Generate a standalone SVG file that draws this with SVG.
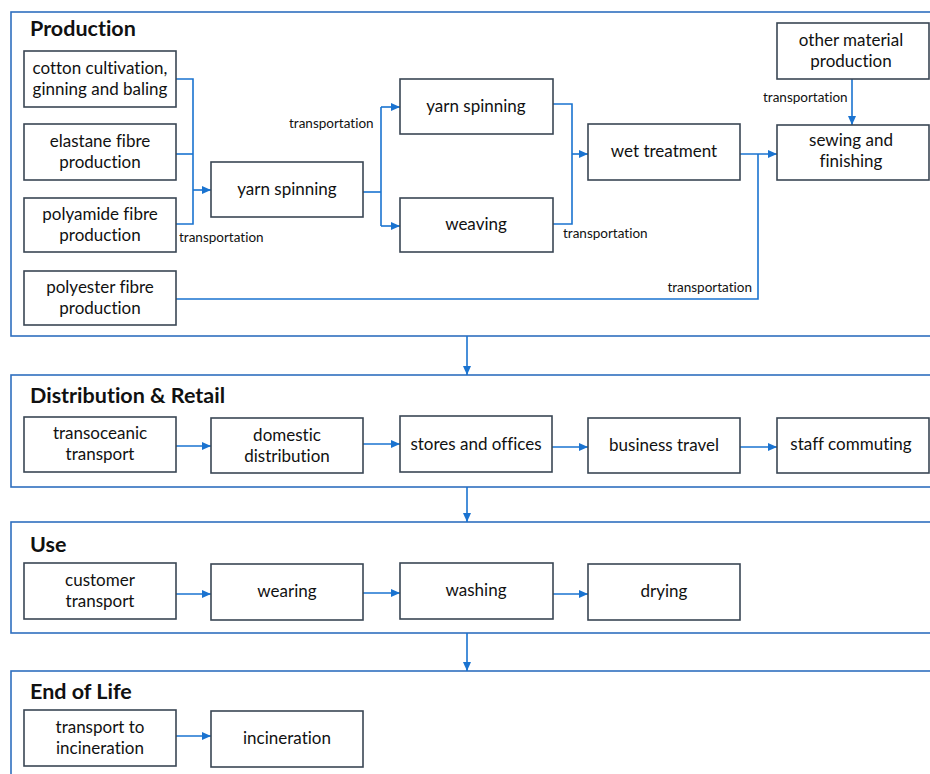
<svg xmlns="http://www.w3.org/2000/svg" width="930" height="774" viewBox="0 0 930 774">
<style>
.frame{fill:none;stroke:#2f6fbf;stroke-width:1.6}
.box{fill:#fff;stroke:#3a4654;stroke-width:1.6}
text{font-variant-ligatures:none}
.t{font-family:Lato,"Liberation Sans",sans-serif;font-size:17px;fill:#111;text-anchor:middle}
.h{font-family:Lato,"Liberation Sans",sans-serif;font-size:21.5px;font-weight:bold;fill:#111}
.lbl{font-family:Lato,"Liberation Sans",sans-serif;font-size:13.5px;fill:#111}
.c{fill:none;stroke:#1a73d0;stroke-width:1.6}
</style>
<defs>
<marker id="m" markerWidth="10" markerHeight="10" refX="9" refY="4" orient="auto" markerUnits="userSpaceOnUse">
<path d="M0,0 L9,4 L0,8 z" fill="#1a73d0"/>
</marker>
</defs>

<g id="frames">
<rect class="frame" x="11" y="12" width="930" height="324"/>
<text class="h" x="30" y="36">Production</text>
<rect class="frame" x="11" y="375" width="930" height="112"/>
<text class="h" x="30" y="403">Distribution &amp; Retail</text>
<rect class="frame" x="11" y="522" width="930" height="111"/>
<text class="h" x="30" y="552">Use</text>
<rect class="frame" x="11" y="671" width="930" height="120"/>
<text class="h" x="30" y="699">End of Life</text>
</g>

<g id="connectors">
<path class="c" d="M176,79 H193 V224 H176"/>
<path class="c" d="M176,154 H193"/>
<path class="c" d="M193,190 H211" marker-end="url(#m)"/>
<path class="c" d="M363,192 H381"/>
<path class="c" d="M381,107 V226"/>
<path class="c" d="M381,107 H400" marker-end="url(#m)"/>
<path class="c" d="M381,226 H400" marker-end="url(#m)"/>
<path class="c" d="M553,104 H572 V224 H553"/>
<path class="c" d="M572,154 H588" marker-end="url(#m)"/>
<path class="c" d="M740,154 H777" marker-end="url(#m)"/>
<path class="c" d="M176,299 H758 V154"/>
<path class="c" d="M852,79 V125" marker-end="url(#m)"/>
<path class="c" d="M467,336 V375" marker-end="url(#m)"/>
<path class="c" d="M176,446 H211" marker-end="url(#m)"/>
<path class="c" d="M363,444 H400" marker-end="url(#m)"/>
<path class="c" d="M552,447 H588" marker-end="url(#m)"/>
<path class="c" d="M740,447 H777" marker-end="url(#m)"/>
<path class="c" d="M467,487 V522" marker-end="url(#m)"/>
<path class="c" d="M176,594 H211" marker-end="url(#m)"/>
<path class="c" d="M363,593 H400" marker-end="url(#m)"/>
<path class="c" d="M553,594 H588" marker-end="url(#m)"/>
<path class="c" d="M467,633 V671" marker-end="url(#m)"/>
<path class="c" d="M176,736 H211" marker-end="url(#m)"/>
<text class="lbl" x="179" y="242">transportation</text>
<text class="lbl" x="289" y="128">transportation</text>
<text class="lbl" x="563" y="238">transportation</text>
<text class="lbl" x="752" y="292" text-anchor="end">transportation</text>
<text class="lbl" x="763" y="102">transportation</text>
</g>

<g id="cotton"><rect class="box" x="24" y="51" width="152" height="56"/><text class="t" x="100" y="74">cotton cultivation,</text><text class="t" x="100" y="95">ginning and baling</text></g>
<g id="elastane"><rect class="box" x="24" y="124" width="152" height="56"/><text class="t" x="100" y="147">elastane fibre</text><text class="t" x="100" y="168">production</text></g>
<g id="polyamide"><rect class="box" x="24" y="198" width="152" height="54"/><text class="t" x="100" y="220">polyamide fibre</text><text class="t" x="100" y="241">production</text></g>
<g id="polyester"><rect class="box" x="24" y="271" width="152" height="54"/><text class="t" x="100" y="293">polyester fibre</text><text class="t" x="100" y="314">production</text></g>
<g id="yarn1"><rect class="box" x="211" y="162" width="152" height="55"/><text class="t" x="287" y="195">yarn spinning</text></g>
<g id="yarn2"><rect class="box" x="400" y="79" width="153" height="55"/><text class="t" x="476" y="112">yarn spinning</text></g>
<g id="weaving"><rect class="box" x="400" y="198" width="153" height="54"/><text class="t" x="476" y="230">weaving</text></g>
<g id="wet"><rect class="box" x="588" y="124" width="152" height="56"/><text class="t" x="664" y="157">wet treatment</text></g>
<g id="other"><rect class="box" x="777" y="23" width="152" height="56"/><text class="t" x="851" y="46">other material</text><text class="t" x="851" y="67">production</text></g>
<g id="sewing"><rect class="box" x="777" y="125" width="152" height="55"/><text class="t" x="851" y="146">sewing and</text><text class="t" x="851" y="167">finishing</text></g>

<g id="transoceanic"><rect class="box" x="24" y="417" width="152" height="55"/><text class="t" x="100" y="439">transoceanic</text><text class="t" x="100" y="460">transport</text></g>
<g id="domestic"><rect class="box" x="211" y="418" width="152" height="55"/><text class="t" x="287" y="441">domestic</text><text class="t" x="287" y="462">distribution</text></g>
<g id="stores"><rect class="box" x="400" y="416" width="152" height="56"/><text class="t" x="476" y="450">stores and offices</text></g>
<g id="business"><rect class="box" x="588" y="418" width="152" height="55"/><text class="t" x="664" y="451">business travel</text></g>
<g id="staff"><rect class="box" x="777" y="418" width="152" height="55"/><text class="t" x="851" y="450">staff commuting</text></g>

<g id="customer"><rect class="box" x="24" y="563" width="152" height="56"/><text class="t" x="100" y="586">customer</text><text class="t" x="100" y="607">transport</text></g>
<g id="wearing"><rect class="box" x="211" y="564" width="152" height="56"/><text class="t" x="287" y="597">wearing</text></g>
<g id="washing"><rect class="box" x="400" y="563" width="153" height="56"/><text class="t" x="476" y="596">washing</text></g>
<g id="drying"><rect class="box" x="588" y="564" width="152" height="56"/><text class="t" x="664" y="597">drying</text></g>

<g id="transport-inc"><rect class="box" x="24" y="710" width="152" height="56"/><text class="t" x="100" y="733">transport to</text><text class="t" x="100" y="754">incineration</text></g>
<g id="incineration"><rect class="box" x="211" y="711" width="152" height="56"/><text class="t" x="287" y="744">incineration</text></g>
</svg>
